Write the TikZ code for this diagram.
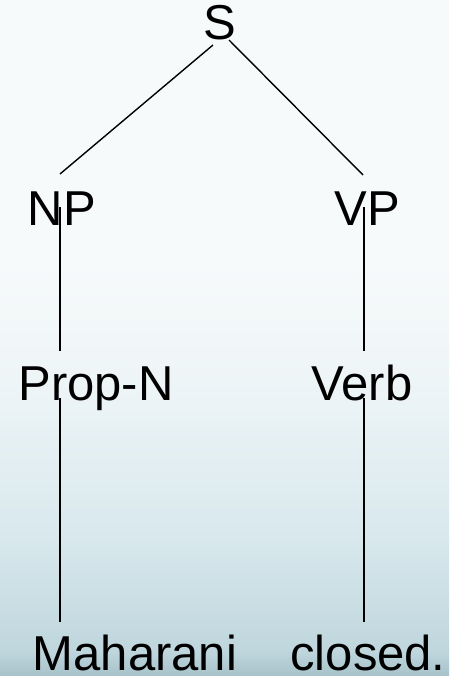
\documentclass[tikz,border=0pt]{standalone}
\usepackage{fontspec}
\setmainfont{Liberation Sans}
\begin{document}
\begin{tikzpicture}[x=1pt,y=-1pt,
  lbl/.style={inner sep=0pt,anchor=base,font=\fontsize{49}{49}\selectfont},
  edge/.style={draw=black,line width=1.4pt}]
% background wash: pale at the top, cool blue-grey toward the bottom
\definecolor{bgA}{HTML}{F7FAFB}
\definecolor{bgB}{HTML}{EEF5F7}
\definecolor{bgC}{HTML}{D8E8ED}
\definecolor{bgD}{HTML}{BFD6DD}
\definecolor{bgE}{HTML}{A7C2CA}
\fill[bgA] (0,0) rectangle (449,260);
\shade[top color=bgA,bottom color=bgB] (0,259) rectangle (449,380);
\shade[top color=bgB,bottom color=bgC] (0,379) rectangle (449,540);
\shade[top color=bgC,bottom color=bgD] (0,539) rectangle (449,652);
\shade[top color=bgD,bottom color=bgE] (0,651) rectangle (449,676);
\useasboundingbox (0,0) rectangle (449,676);
% tree labels
\node[lbl] (s) at (220,40) {S};
\node[lbl] (np) at (62,225) {NP};
\node[lbl] (vp) at (367,225) {VP};
\node[lbl] (propn) at (96,400) {Prop-N};
\node[lbl] (verb) at (362,400) {Verb};
\node[lbl] (mah) at (135,670) {Maharani};
\node[lbl] (clo) at (368,670) {closed.};
% anchor points for the branches
\coordinate (sL) at (213,45);
\coordinate (sR) at (229,40);
\coordinate (npT) at (60,174);
\coordinate (vpT) at (363,175);
\coordinate (npB) at (60,207);
\coordinate (vpB) at (364,207);
\coordinate (pnT) at (60,351);
\coordinate (vbT) at (364,351);
\coordinate (pnB) at (60,398);
\coordinate (vbB) at (364,398);
\coordinate (mhT) at (60,622);
\coordinate (clT) at (364,622);
% branches
\draw[edge] (sL) -- (npT);
\draw[edge] (sR) -- (vpT);
\draw[edge] (npB) -- (pnT);
\draw[edge] (vpB) -- (vbT);
\draw[edge] (pnB) -- (mhT);
\draw[edge] (vbB) -- (clT);
\end{tikzpicture}
\end{document}
